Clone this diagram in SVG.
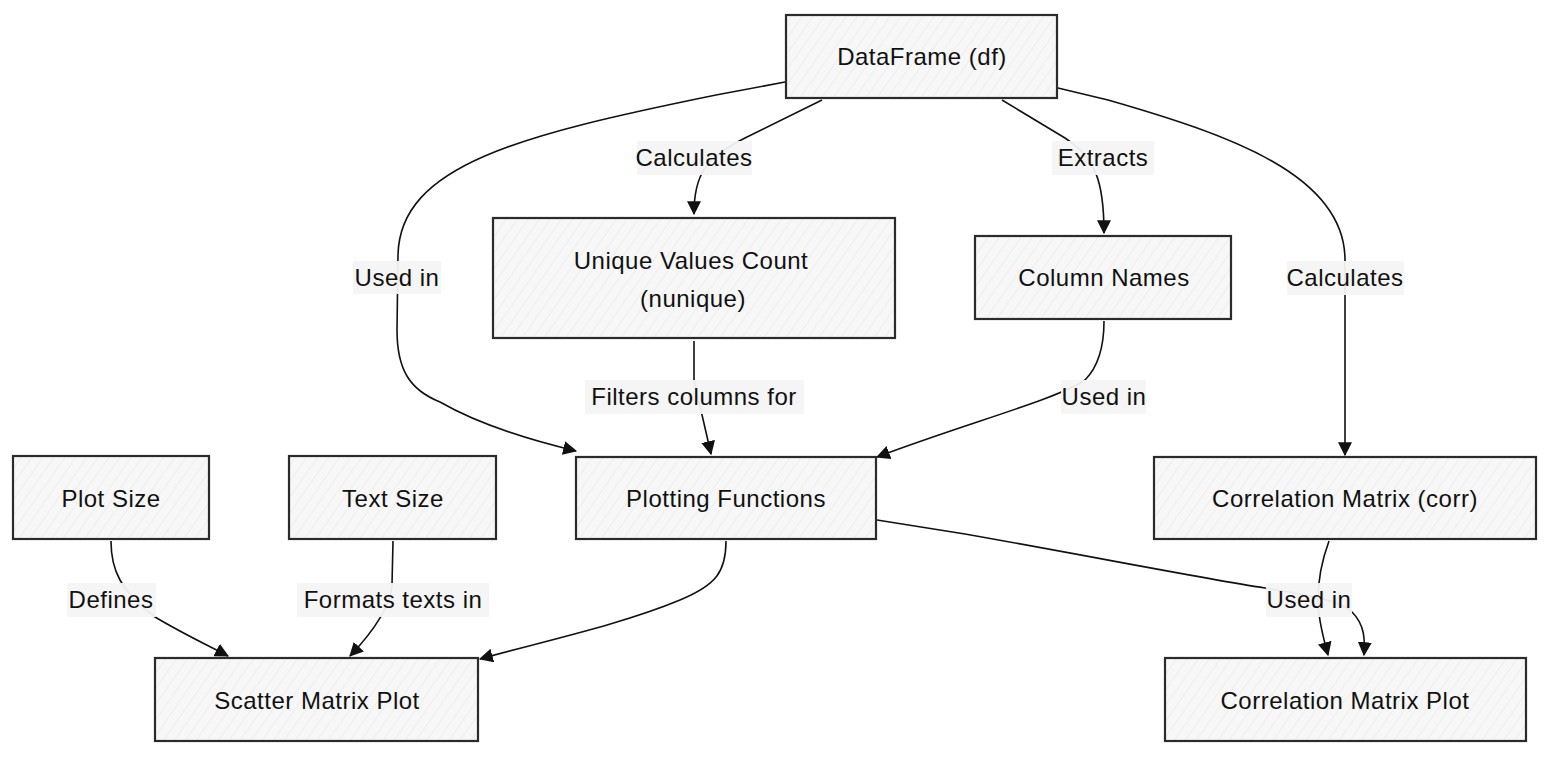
<svg xmlns="http://www.w3.org/2000/svg" width="1568" height="764" viewBox="0 0 1568 764">
<style>
.box{fill:url(#hatch);stroke:#2b2b2b;stroke-width:2.2}
.t{font-family:"Liberation Sans",Arial,sans-serif;font-size:24px;fill:#111;text-anchor:middle;letter-spacing:0.5px}
.e{fill:none;stroke:#111;stroke-width:1.6}
.ea{fill:none;stroke:#111;stroke-width:1.6;marker-end:url(#ah)}
.lb{fill:#f4f4f4;fill-opacity:0.95}
</style>
<defs>
<pattern id="hatch" patternUnits="userSpaceOnUse" width="9" height="9" patternTransform="rotate(35)">
<rect width="9" height="9" fill="#f7f7f7"/>
<line x1="0" y1="0" x2="0" y2="9" stroke="#e6e6e6" stroke-width="1"/>
</pattern>
<marker id="ah" viewBox="0 0 12 12" refX="11" refY="6" markerWidth="14" markerHeight="14" markerUnits="userSpaceOnUse" orient="auto">
<path d="M0,0 L12,6 L0,12 Z" fill="#111"/>
</marker>
</defs>
<rect width="1568" height="764" fill="#ffffff"/>
<g id="connectors">
<path class="ea" d="M785,82 L716,95 C520,135 400,165 398,255 L397,330 C397,370 410,390 440,402 C480,425 530,440 576,451"/>
<path class="ea" d="M822,100 L745,138 C705,158 694,175 694,214"/>
<path class="ea" d="M1002,100 L1065,138 C1095,158 1104,180 1104,233"/>
<path class="ea" d="M1058,88 L1108,100 C1230,135 1345,175 1345,260 L1345,455"/>
<path class="ea" d="M694,341 L694,380 L711,454"/>
<path class="ea" d="M1104,321 C1104,350 1097,368 1085,380 C1055,400 970,422 877,457"/>
<path class="ea" d="M726,541 C726,572 716,585 680,600 C620,625 540,642 480,659"/>
<path class="ea" d="M877,520 L965,534 C1100,558 1200,578 1265,588 C1300,594 1340,600 1352,612 C1365,625 1365,640 1364,655"/>
<path class="ea" d="M1329,541 C1322,560 1318,578 1318,600 C1318,620 1324,640 1328,655"/>
<path class="ea" d="M111,541 C111,570 120,590 155,617 C180,632 205,644 228,656"/>
<path class="ea" d="M393,541 L392,585 C390,610 370,635 350,656"/>
<g id="edge-labels">
<rect class="lb" x="353" y="261" width="88" height="33"/><text class="t" x="397" y="286">Used in</text>
<rect class="lb" x="637" y="141" width="115" height="34"/><text class="t" x="694" y="166">Calculates</text>
<rect class="lb" x="1052" y="141" width="102" height="34"/><text class="t" x="1103" y="166">Extracts</text>
<rect class="lb" x="1287" y="261" width="117" height="34"/><text class="t" x="1345" y="286">Calculates</text>
<rect class="lb" x="585" y="380" width="219" height="34"/><text class="t" x="694" y="405">Filters columns for</text>
<rect class="lb" x="1061" y="380" width="85" height="34"/><text class="t" x="1104" y="405">Used in</text>
<rect class="lb" x="67" y="583" width="89" height="34"/><text class="t" x="111" y="608">Defines</text>
<rect class="lb" x="297" y="583" width="192" height="34"/><text class="t" x="393" y="608">Formats texts in</text>
<rect class="lb" x="1266" y="583" width="86" height="34"/><text class="t" x="1309" y="608">Used in</text>
</g>
</g>
<g id="n-dataframe"><rect class="box" x="786" y="15" width="271" height="83"/><text class="t" x="922" y="65">DataFrame (df)</text></g>
<g id="n-unique"><rect class="box" x="493" y="218" width="402" height="120"/><text class="t" x="691" y="269">Unique Values Count</text><text class="t" x="693" y="307">(nunique)</text></g>
<g id="n-columns"><rect class="box" x="975" y="236" width="256" height="83"/><text class="t" x="1104" y="286">Column Names</text></g>
<g id="n-plotting"><rect class="box" x="576" y="457" width="300" height="82"/><text class="t" x="726" y="507">Plotting Functions</text></g>
<g id="n-corr"><rect class="box" x="1154" y="457" width="382" height="82"/><text class="t" x="1345" y="507">Correlation Matrix (corr)</text></g>
<g id="n-plotsize"><rect class="box" x="13" y="456" width="196" height="83"/><text class="t" x="111" y="507">Plot Size</text></g>
<g id="n-textsize"><rect class="box" x="289" y="456" width="207" height="83"/><text class="t" x="393" y="507">Text Size</text></g>
<g id="n-scatter"><rect class="box" x="155" y="658" width="323" height="83"/><text class="t" x="317" y="709">Scatter Matrix Plot</text></g>
<g id="n-corrplot"><rect class="box" x="1165" y="658" width="361" height="83"/><text class="t" x="1345" y="709">Correlation Matrix Plot</text></g>
</svg>
